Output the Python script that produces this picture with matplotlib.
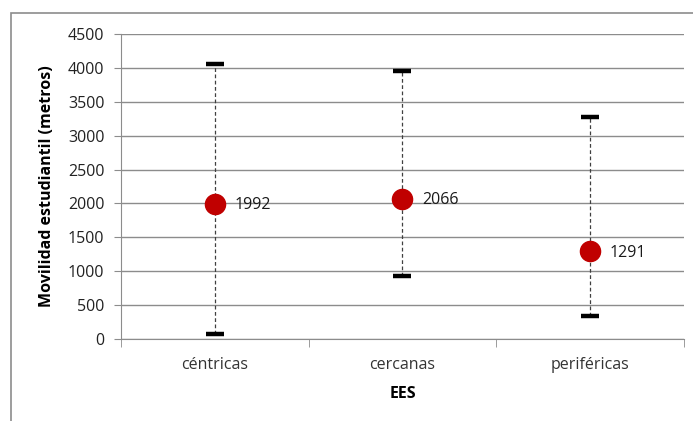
import numpy as np
import matplotlib.pyplot as plt
from matplotlib.patches import Rectangle

# Datos
categorias = ["céntricas", "cercanas", "periféricas"]
media = [1992, 2066, 1291]
maximo = [4060, 3960, 3275]
minimo = [75, 930, 345]

GRIS = "#8c8c8c"
ROJO = "#c00000"

plt.rcParams["font.family"] = ["Open Sans", "DejaVu Sans"]

fig = plt.figure(figsize=(6.93, 4.21), dpi=100)
ax = fig.add_axes([0.1746, 0.1948, 0.8124, 0.7244])

# marco exterior del gráfico (solo se ven borde izquierdo y superior)
fig.patches.append(Rectangle((11 / 693, -0.1), 1.2, 1.1 - 13 / 421, transform=fig.transFigure,
                             fill=False, edgecolor=GRIS, linewidth=1.2))

x = np.arange(len(categorias))
ax.vlines(x, minimo, maximo, colors="#404040", linestyles=(0, (3, 2)), linewidth=0.9, zorder=2)
ax.plot(x, maximo, linestyle="none", marker="_", ms=13, mew=3.2, color="black", zorder=3)
ax.plot(x, minimo, linestyle="none", marker="_", ms=13, mew=3.2, color="black", zorder=3)
ax.plot(x, media, linestyle="none", marker="o", ms=14.5, color=ROJO, mec=ROJO, zorder=4)
for xi, v in zip(x, media):
    ax.annotate(str(v), (xi, v), xytext=(14, -1), textcoords="offset points",
                va="center", ha="left", fontsize=11.5, color="#1a1a1a")

ax.set_xlim(-0.5, 2.5)
ax.set_ylim(0, 4500)
ax.set_yticks(np.arange(0, 4501, 500))
ax.yaxis.grid(True, color=GRIS, linewidth=1)
ax.set_axisbelow(True)

ax.set_xticks(x)
ax.set_xticklabels(categorias)
ax.set_xticks([-0.5, 0.5, 1.5, 2.5], minor=True)
ax.tick_params(axis="x", which="major", length=0, pad=13, labelsize=11.5, colors="#333333")
ax.tick_params(axis="x", which="minor", length=6, color=GRIS)
ax.tick_params(axis="y", length=5, color=GRIS, labelsize=11.5, pad=7, labelcolor="#222222")

for lado in ["top", "right"]:
    ax.spines[lado].set_visible(False)
for lado in ["left", "bottom"]:
    ax.spines[lado].set_color(GRIS)

ax.set_xlabel("EES", fontweight="bold", fontsize=11.5, labelpad=9)
ax.set_ylabel("Movilidad estudiantil (metros)", fontweight="bold", fontsize=11.5, labelpad=9)

fig.savefig("out.png", dpi=100)
